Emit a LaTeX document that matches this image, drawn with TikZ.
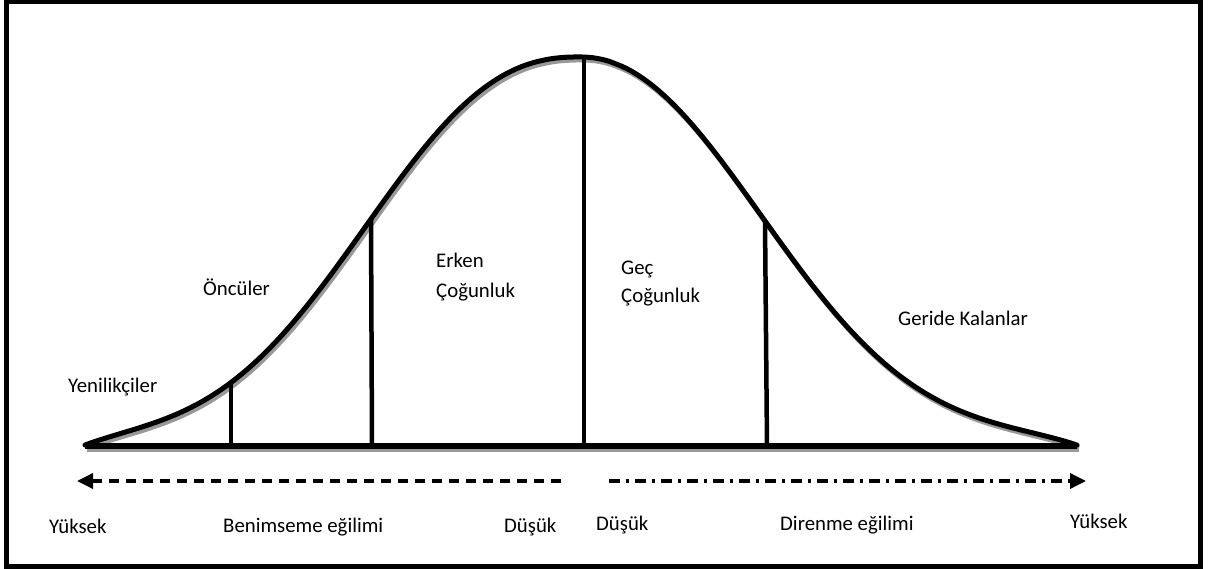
\documentclass[tikz,border=0pt]{standalone}
\usepackage{fontspec}
\setmainfont{Carlito}
\usetikzlibrary{arrows.meta}
\begin{document}
\begin{tikzpicture}[x=1pt,y=-1pt,
  declare function={
    bellL(\t)=445-388*(exp(-exp(2.4*ln(max(abs(580-\t)/272,0.0001))))-0.0149)/0.9851-0.25*(495-abs(580-\t))*(abs(580-\t)/495)^6;
    bellR(\t)=445-388*(exp(-exp(2.1*ln(max(abs(\t-580)/248,0.0001))))-0.0136)/0.9864-0.24*(497-abs(\t-580))*(abs(\t-580)/497)^6;
  },
  lbl/.style={inner sep=0pt, anchor=base west, font=\fontsize{20.8}{25}\selectfont},
  curveline/.style={line width=5pt, line join=round, line cap=round},
  shadowline/.style={line width=5pt, line join=round, draw=black!40},
  divider/.style={line width=4.5pt},
  adopt/.style={line width=3.5pt, dash pattern=on 10pt off 7pt, -{Triangle[length=16pt,width=15pt]}},
  resist/.style={line width=3.5pt, dash pattern=on 11pt off 6pt on 3pt off 6pt, -{Triangle[length=16pt,width=15pt]}}
]
\useasboundingbox (0,0) rectangle (1208,569);
\fill[white] (0,0) rectangle (1208,569);
\draw[line width=5pt] (6,2) rectangle (1200,566);

% shadows
\begin{scope}[shift={(2,3)}]
  \draw[shadowline] plot[domain=85:580, samples=120] (\x,{bellL(\x)})
    -- plot[domain=580:1077, samples=120] (\x,{bellR(\x)});
  \draw[shadowline] (85,446) -- (1077,446);
\end{scope}

% curve and baseline
\draw[curveline] plot[domain=85:580, samples=120] (\x,{bellL(\x)})
    -- plot[domain=580:1077, samples=120] (\x,{bellR(\x)});
\coordinate (bl) at (85,446);
\coordinate (br) at (1077,446);
\draw[line width=5.5pt] (bl) -- (br);

% dividers
\coordinate (d1t) at (231,{bellL(231)}); \coordinate (d1b) at (231,446);
\coordinate (d2t) at (371,{bellL(371)}); \coordinate (d2b) at (372,446);
\coordinate (d3t) at (584,{bellR(584)}); \coordinate (d3b) at (584,446);
\coordinate (d4t) at (765,{bellR(765)}); \coordinate (d4b) at (767,446);
\draw[divider] (d1t) -- (d1b);
\draw[divider] (d2t) -- (d2b);
\draw[divider] (d3t) -- (d3b);
\draw[divider] (d4t) -- (d4b);

% category labels
\node[lbl] (yen) at (68,392) {Yenilikçiler};
\node[lbl] (onc) at (203,296) {Öncüler};
\node[lbl] (erk1) at (436,268) {Erken};
\node[lbl] (erk2) at (436,298) {Çoğunluk};
\node[lbl] (gec1) at (621,275) {Geç};
\node[lbl] (gec2) at (621,303) {Çoğunluk};
\node[lbl] (ger) at (898,326) {Geride Kalanlar};

% arrows
\coordinate (la) at (561,481); \coordinate (lb) at (77,481);
\coordinate (ra) at (609,481); \coordinate (rb) at (1086,481);
\draw[adopt] (la) -- (lb);
\draw[resist] (ra) -- (rb);

% bottom labels
\node[lbl] (y1) at (49,533) {Yüksek};
\node[lbl] (ben) at (223,532) {Benimseme eğilimi};
\node[lbl] (dus1) at (504,532) {Düşük};
\node[lbl] (dus2) at (596,530) {Düşük};
\node[lbl] (dir) at (780,530) {Direnme eğilimi};
\node[lbl] (y2) at (1070,528) {Yüksek};
\end{tikzpicture}
\end{document}
